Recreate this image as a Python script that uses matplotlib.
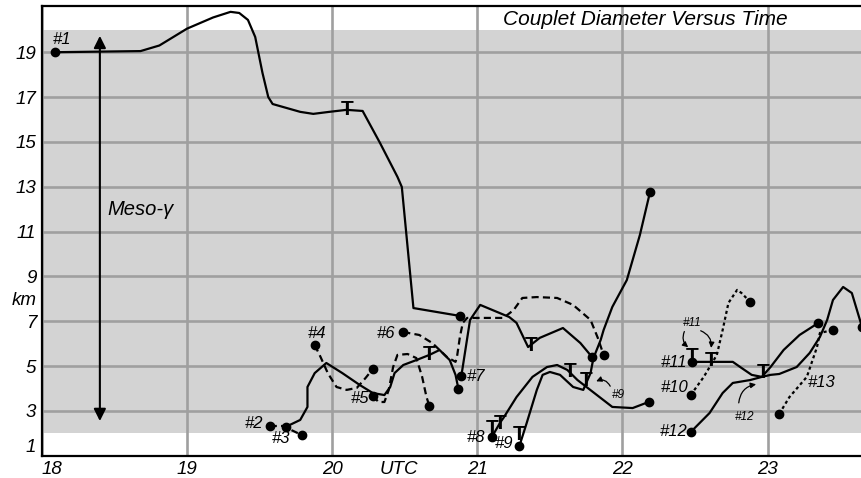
import matplotlib
matplotlib.use("Agg")
import matplotlib.pyplot as plt

plt.rcParams['font.family'] = ['Liberation Sans', 'DejaVu Sans']
plt.rcParams['font.style'] = 'italic'

# ---------------- data (time in UTC hours, diameter in km) ----------------
t1 = [18.09, 18.68, 18.81, 19.00, 19.18, 19.30, 19.36, 19.42, 19.47, 19.52, 19.56, 19.59,
      19.78, 19.87, 19.98, 20.10, 20.21, 20.33, 20.45, 20.48, 20.56, 20.88]
k1 = [19.0, 19.05, 19.3, 20.05, 20.55, 20.8, 20.75, 20.44, 19.68, 18.08, 17.0, 16.69,
      16.34, 16.25, 16.34, 16.43, 16.38, 14.95, 13.44, 12.99, 7.59, 7.24]

t2 = [19.57, 19.66, 19.79]
k2 = [2.33, 2.33, 1.93]

t3 = [19.68, 19.78, 19.83, 19.83, 19.88, 19.96, 20.07, 20.19, 20.28, 20.36, 20.40, 20.43,
      20.49, 20.58, 20.67, 20.74, 20.81, 20.85, 20.87]
k3 = [2.29, 2.6, 3.18, 4.07, 4.69, 5.14, 4.69, 4.16, 3.8, 3.71, 4.07, 4.69,
      5.05, 5.27, 5.5, 5.72, 5.27, 4.61, 3.98]

t4 = [19.88, 19.92, 19.97, 20.03, 20.10, 20.17, 20.23, 20.28]
k4 = [5.94, 5.41, 4.69, 4.07, 3.94, 4.03, 4.47, 4.87]

t5 = [20.28, 20.32, 20.36, 20.39, 20.42, 20.45, 20.52, 20.58, 20.62, 20.65, 20.67]
k5 = [3.67, 3.4, 3.4, 3.94, 4.96, 5.5, 5.54, 5.36, 4.52, 3.62, 3.22]

t6 = [20.49, 20.60, 20.69, 20.79, 20.85, 20.86, 20.88, 20.90, 20.93, 21.18, 21.25, 21.31,
      21.41, 21.55, 21.66, 21.78, 21.83, 21.87]
k6 = [6.52, 6.39, 6.03, 5.41, 5.19, 5.41, 6.3, 6.93, 7.15, 7.15, 7.5, 8.04,
      8.08, 8.04, 7.73, 7.06, 6.26, 5.5]

t7 = [20.89, 20.95, 21.02, 21.22, 21.27, 21.35, 21.43, 21.59, 21.71, 21.79]
k7 = [4.56, 7.06, 7.73, 7.19, 6.93, 5.85, 6.26, 6.7, 6.03, 5.41]

t8 = [21.10, 21.16, 21.18, 21.27, 21.38, 21.48, 21.55, 21.62, 21.69, 21.76, 21.85, 21.93,
      22.07, 22.18]
k8 = [1.84, 2.51, 2.69, 3.62, 4.52, 4.96, 5.05, 4.83, 4.38, 4.03, 3.58, 3.18,
      3.13, 3.4]

t9 = [21.29, 21.34, 21.41, 21.45, 21.50, 21.57, 21.66, 21.73, 21.78, 21.80, 21.85, 21.87,
      21.93, 22.03, 22.12, 22.19]
k9 = [1.44, 2.46, 3.94, 4.61, 4.74, 4.61, 4.07, 3.94, 4.69, 5.36, 6.17, 6.61,
      7.64, 8.84, 10.85, 12.77]

t10 = [22.47, 22.56, 22.65, 22.69, 22.73, 22.79, 22.82, 22.88]
k10 = [3.71, 4.52, 5.5, 6.61, 7.82, 8.4, 8.26, 7.86]

t11 = [22.48, 22.76, 22.82, 22.89, 22.96, 23.02, 23.08, 23.20, 23.29, 23.36, 23.41, 23.45,
       23.52, 23.58, 23.65]
k11 = [5.19, 5.19, 4.92, 4.61, 4.52, 4.61, 4.65, 4.96, 5.59, 6.3, 7.06, 7.95,
       8.53, 8.26, 6.75]

t12 = [22.47, 22.60, 22.69, 22.76, 22.88, 22.96, 23.02, 23.11, 23.22, 23.35]
k12 = [2.06, 2.91, 3.8, 4.25, 4.38, 4.52, 4.96, 5.72, 6.39, 6.93]

t13 = [23.08, 23.15, 23.27, 23.34, 23.36, 23.45]
k13 = [2.87, 3.62, 4.52, 5.85, 6.48, 6.61]

track_names = ['#1', '#2', '#3', '#4', '#5', '#6', '#7', '#8', '#9', '#10', '#11', '#12', '#13']
track_t = [t1, t2, t3, t4, t5, t6, t7, t8, t9, t10, t11, t12, t13]
track_k = [k1, k2, k3, k4, k5, k6, k7, k8, k9, k10, k11, k12, k13]
track_kind = ['solid', 'dashed', 'solid', 'dashed', 'dashed', 'dashed', 'solid',
              'solid', 'solid', 'dotted', 'solid', 'solid', 'dotted']

# tornado ("T") marks
tor_t = [20.10, 20.67, 21.37, 21.10, 21.16, 21.64, 21.29, 21.75, 22.48, 22.61, 22.97]
tor_k = [16.43, 5.5, 5.9, 2.24, 2.42, 4.74, 1.93, 4.34, 5.41, 5.27, 4.7]

x_ticks = [18, 19, 20, 21, 22, 23]
y_ticks = [1, 3, 5, 7, 9, 11, 13, 15, 17, 19]

# ---------------- styles / layout ----------------
line_styles = {'solid': '-', 'dashed': (0, (3.2, 1.9)), 'dotted': (0, (1.4, 1.3))}
# label offsets from the first point of each track (pixels) and alignment
label_layout = {
    '#1': (7, 13, 'center'), '#2': (-7, 2, 'right'), '#3': (-5, -12, 'center'),
    '#4': (2, 12, 'center'), '#5': (-4, -3, 'right'), '#6': (-8, -1, 'right'),
    '#7': (5, -1, 'left'), '#8': (-7, -1, 'right'), '#9': (-6, 2, 'right'),
    '#10': (-2, 8, 'right'), '#11': (-5, -1, 'right'), '#12': (-3, 1, 'right'),
    '#13': (28, 31, 'left'),
}

fig = plt.figure(figsize=(8.62, 4.78), dpi=100)
ax = fig.add_axes([0.0485, 0.0464, 0.9515, 0.941])
ax.set_xlim(18, 23.65)
ax.set_ylim(1, 21.06)

ax.axhspan(2, 20, color='#d3d3d3', zorder=0, lw=0)
ax.set_axisbelow(True)
ax.set_xticks(x_ticks)
ax.set_yticks(y_ticks)
ax.grid(True, which='major', color='#9f9f9f', lw=1.9)
ax.set_xticks([20.46], ['UTC'], minor=True)
ax.set_yticks([8], ['km'], minor=True)
ax.tick_params(which='both', length=0, labelsize=13.5, pad=4)
for lab in ax.get_xticklabels(which='both') + ax.get_yticklabels(which='both'):
    lab.set_fontstyle('italic')
ax.get_xticklabels()[0].set_horizontalalignment('left')
ax.get_yticklabels()[0].set_verticalalignment('bottom')

for side in ['left', 'top', 'bottom']:
    ax.spines[side].set_linewidth(1.6)
ax.spines['right'].set_visible(False)

for name, tt, kk, kind in zip(track_names, track_t, track_k, track_kind):
    ax.plot(tt, kk, color='k', lw=1.6, ls=line_styles[kind], marker='o', ms=6,
            markevery=[0, len(tt) - 1], solid_capstyle='round', zorder=3, clip_on=False)
    dx, dy, ha = label_layout[name]
    ax.annotate(name, xy=(tt[0], kk[0]), xytext=(dx, dy), textcoords='offset pixels',
                ha=ha, va='center', fontsize=12, zorder=4)

for tt, kk in zip(tor_t, tor_k):
    ax.text(tt, kk, 'T', ha='center', va='center', fontsize=15, fontweight='bold',
            fontstyle='normal', zorder=5)

# small annotations with wavy arrows
arrow_kw = dict(arrowstyle='-|>', color='k', lw=0.9, mutation_scale=8, shrinkA=1, shrinkB=1)
ax.text(21.97, 3.7, '#9', fontsize=8.5, ha='center', va='center')
ax.annotate('', xy=(21.81, 4.3), xytext=(21.92, 4.05),
            arrowprops=dict(connectionstyle='arc3,rad=0.5', **arrow_kw))
ax.text(22.48, 6.93, '#11', fontsize=8.5, ha='center', va='center')
ax.annotate('', xy=(22.46, 5.8), xytext=(22.43, 6.6),
            arrowprops=dict(connectionstyle='arc3,rad=0.4', **arrow_kw))
ax.annotate('', xy=(22.61, 5.75), xytext=(22.53, 6.6),
            arrowprops=dict(connectionstyle='arc3,rad=-0.4', **arrow_kw))
ax.text(22.84, 2.73, '#12', fontsize=8.5, ha='center', va='center')
ax.annotate('', xy=(22.93, 4.2), xytext=(22.80, 3.3),
            arrowprops=dict(connectionstyle='arc3,rad=-0.4', **arrow_kw))

# meso-gamma scale arrow
ax.annotate('', xy=(18.4, 19.73), xytext=(18.4, 2.55),
            arrowprops=dict(arrowstyle='<|-|>', color='k', lw=1.5, mutation_scale=18,
                            shrinkA=0, shrinkB=0))
ax.text(18.45, 11.97, 'Meso-γ', fontsize=14.5, ha='left', va='center')

ax.text(22.16, 20.44, 'Couplet Diameter Versus Time', fontsize=15, ha='center', va='center')

fig.savefig('out.png', dpi=100)
